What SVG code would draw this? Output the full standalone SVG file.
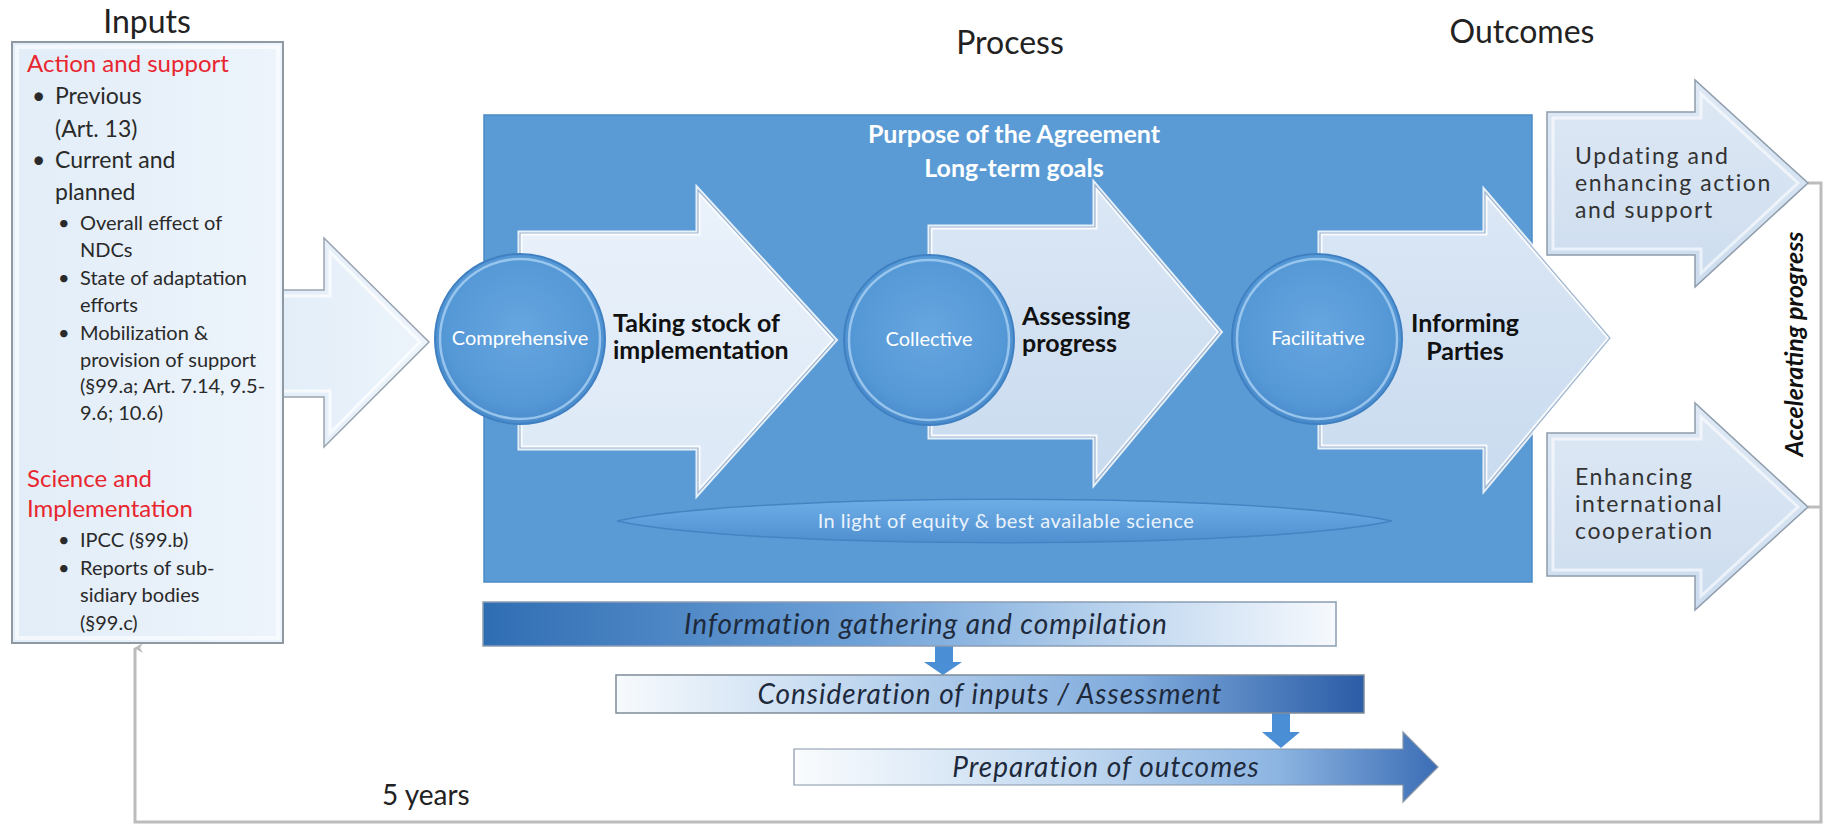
<svg xmlns="http://www.w3.org/2000/svg" width="1827" height="825" viewBox="0 0 1827 825">
<style>
text{font-family:"Lato","Open Sans","Liberation Sans",sans-serif}
.title{font-size:32px;fill:#222}
.red{fill:#e8262f;font-size:24px}
.main{font-size:23px;fill:#2a2a2a}
.sub{font-size:20px;fill:#2a2a2a}
.circ{font-size:20px;fill:#ffffff}
.bold{font-size:25px;font-weight:bold;fill:#111}
.out{font-size:23px;fill:#333;letter-spacing:1.6px}
.bar{font-size:28px;font-style:italic;fill:#1e2a3c;letter-spacing:1px}
.parr{stroke:#ffffff;stroke-width:5;stroke-opacity:0.85;stroke-linejoin:miter}
.pout{fill:none;stroke:#9db4cf;stroke-width:1.2}
.ring{fill:none;stroke:#a9d1f3;stroke-width:2.5;stroke-opacity:0.8}
.loop{fill:none;stroke:#bcbcbc;stroke-width:3}
</style>
<defs>
<linearGradient id="gInput" x1="0" y1="0" x2="1" y2="0">
<stop offset="0" stop-color="#e2edf8"/><stop offset="1" stop-color="#edf4fb"/>
</linearGradient>
<linearGradient id="gArr1" x1="0" y1="0" x2="0" y2="1">
<stop offset="0" stop-color="#eaf2fb"/><stop offset="1" stop-color="#dce8f6"/>
</linearGradient>
<linearGradient id="gArr2" x1="0" y1="0" x2="0" y2="1">
<stop offset="0" stop-color="#dbe7f5"/><stop offset="1" stop-color="#c9dbef"/>
</linearGradient>
<linearGradient id="gOut" x1="0" y1="0" x2="0" y2="1">
<stop offset="0" stop-color="#dfe9f5"/><stop offset="1" stop-color="#ccdcee"/>
</linearGradient>
<radialGradient id="gCirc" cx="0.5" cy="0.45" r="0.55">
<stop offset="0" stop-color="#66a6e0"/><stop offset="0.8" stop-color="#5598d6"/><stop offset="1" stop-color="#4a8bcb"/>
</radialGradient>
<linearGradient id="gLens" x1="0" y1="0" x2="0" y2="1">
<stop offset="0" stop-color="#6eaee6"/><stop offset="1" stop-color="#4f8fd0"/>
</linearGradient>
<linearGradient id="gBar1" x1="0" y1="0" x2="1" y2="0">
<stop offset="0" stop-color="#2f6db3"/><stop offset="0.45" stop-color="#6fa2d8"/><stop offset="0.8" stop-color="#c9ddf2"/><stop offset="1" stop-color="#f6f9fd"/>
</linearGradient>
<linearGradient id="gBar2" x1="0" y1="0" x2="1" y2="0">
<stop offset="0" stop-color="#f7fafd"/><stop offset="0.3" stop-color="#c3d9f0"/><stop offset="0.7" stop-color="#7eaadc"/><stop offset="1" stop-color="#2b5ca6"/>
</linearGradient>
<linearGradient id="gBar3" x1="0" y1="0" x2="1" y2="0">
<stop offset="0" stop-color="#fafcfe"/><stop offset="0.4" stop-color="#c6dbf1"/><stop offset="0.75" stop-color="#8db5e2"/><stop offset="1" stop-color="#3b6db5"/>
</linearGradient>
<marker id="loopArrow" markerWidth="10" markerHeight="10" refX="5" refY="1" orient="auto-start-reverse" markerUnits="userSpaceOnUse" viewBox="0 0 10 10">
<path d="M0 9 L5 0 L10 9 L5 6 Z" fill="#bcbcbc"/>
</marker>
</defs>

<rect width="1827" height="825" fill="#ffffff"/>

<g id="titles">
<text class="title" x="147" y="33" text-anchor="middle">Inputs</text>
<text class="title" x="1010" y="54" text-anchor="middle">Process</text>
<text class="title" x="1522" y="43" text-anchor="middle">Outcomes</text>
</g>

<g id="connectors">
<path class="loop" d="M1808 183 L1821 183 L1821 822 L135 822 L135 648" marker-end="url(#loopArrow)"/>
<path class="loop" d="M1808 507 L1821 507"/>
<path d="M935 646 L953 646 L953 662 L962 662 L943 675 L924 662 L935 662 Z" fill="#4a8fd6"/>
<path d="M1272 713 L1290 713 L1290 732 L1300 732 L1281 748 L1262 732 L1272 732 Z" fill="#4a8fd6"/>
</g>

<g id="inputs">
<path d="M270 290 L324 290 L324 238 L429 342 L324 447 L324 397 L270 397 Z" fill="url(#gInput)" stroke="#9aa4ae" stroke-width="1.5"/>
<path d="M283 296 L330 296 L330 252 L420 342 L330 433 L330 391 L283 391" fill="none" stroke="#ffffff" stroke-width="3" stroke-opacity="0.7"/>
<rect x="12" y="42" width="271" height="601" fill="url(#gInput)" stroke="#8f99a3" stroke-width="2"/>
<rect x="17" y="47" width="261" height="591" fill="none" stroke="#ffffff" stroke-width="4" stroke-opacity="0.6"/>
<text class="red" x="27" y="72">Action and support</text>
<text class="main" x="32" y="104">•</text><text class="main" x="55" y="104">Previous</text>
<text class="main" x="55" y="137">(Art. 13)</text>
<text class="main" x="32" y="168">•</text><text class="main" x="55" y="168">Current and</text>
<text class="main" x="55" y="200">planned</text>
<text class="sub" x="58" y="230">•</text><text class="sub" x="80" y="230">Overall effect of</text>
<text class="sub" x="80" y="257">NDCs</text>
<text class="sub" x="58" y="285">•</text><text class="sub" x="80" y="285">State of adaptation</text>
<text class="sub" x="80" y="312">efforts</text>
<text class="sub" x="58" y="340">•</text><text class="sub" x="80" y="340">Mobilization &amp;</text>
<text class="sub" x="80" y="367">provision of support</text>
<text class="sub" x="80" y="393">(§99.a; Art. 7.14, 9.5-</text>
<text class="sub" x="80" y="420">9.6; 10.6)</text>
<text class="red" x="27" y="487">Science and</text>
<text class="red" x="27" y="517">Implementation</text>
<text class="sub" x="58" y="547">•</text><text class="sub" x="80" y="547">IPCC (§99.b)</text>
<text class="sub" x="58" y="575">•</text><text class="sub" x="80" y="575">Reports of sub-</text>
<text class="sub" x="80" y="602">sidiary bodies</text>
<text class="sub" x="80" y="630">(§99.c)</text>
</g>

<g id="process">
<rect x="484" y="115" width="1048" height="467" fill="#5b9bd5" stroke="#4b8bc8" stroke-width="1.5"/>
<text x="1014" y="143" text-anchor="middle" font-size="25" font-weight="bold" fill="#ffffff">Purpose of the Agreement<tspan x="1014" dy="34">Long-term goals</tspan></text>
<g id="lens">
<path d="M617 521 C750 492 1260 492 1392 521 C1260 550 750 550 617 521 Z" fill="url(#gLens)" stroke="#4683c3" stroke-width="1.5"/>
<text x="1006" y="528" text-anchor="middle" font-size="20" letter-spacing="0.5" fill="#eaf3fc">In light of equity &amp; best available science</text>
</g>
</g>

<g id="step1">
<path class="parr" d="M520 233 L698 233 L698 190 L835 340 L698 493 L698 448 L520 448 Z" fill="url(#gArr1)"/>
<path class="pout" d="M520 233 L698 233 L698 190 L835 340 L698 493 L698 448 L520 448 Z"/>
<circle cx="520" cy="339" r="85" fill="url(#gCirc)" stroke="#3f80c2" stroke-width="2"/>
<circle class="ring" cx="520" cy="339" r="80"/>
<text class="circ" x="520" y="345" text-anchor="middle">Comprehensive</text>
<text class="bold" x="613" y="332">Taking stock of<tspan x="613" dy="27">implementation</tspan></text>
</g>

<g id="step2">
<path class="parr" d="M930 227 L1095 227 L1095 185 L1220 332 L1095 482 L1095 437 L930 437 Z" fill="url(#gArr2)"/>
<path class="pout" d="M930 227 L1095 227 L1095 185 L1220 332 L1095 482 L1095 437 L930 437 Z"/>
<circle cx="929" cy="340" r="85" fill="url(#gCirc)" stroke="#3f80c2" stroke-width="2"/>
<circle class="ring" cx="929" cy="340" r="80"/>
<text class="circ" x="929" y="346" text-anchor="middle">Collective</text>
<text class="bold" x="1022" y="325">Assessing<tspan x="1022" dy="27">progress</tspan></text>
</g>

<g id="step3">
<path class="parr" d="M1320 233 L1485 233 L1485 192 L1610 338 L1485 488 L1485 447 L1320 447 Z" fill="url(#gArr2)"/>
<path class="pout" d="M1320 233 L1485 233 L1485 192 L1610 338 L1485 488 L1485 447 L1320 447 Z"/>
<circle cx="1317" cy="339" r="85" fill="url(#gCirc)" stroke="#3f80c2" stroke-width="2"/>
<circle class="ring" cx="1317" cy="339" r="80"/>
<text class="circ" x="1318" y="345" text-anchor="middle">Facilitative</text>
<text class="bold" x="1465" y="332" text-anchor="middle" font-size="23">Informing<tspan x="1465" dy="28">Parties</tspan></text>
</g>

<g id="outcome1">
<path d="M1547 112 L1695 112 L1695 80 L1808 183 L1695 287 L1695 255 L1547 255 Z" fill="url(#gOut)" stroke="#8e9cab" stroke-width="1.5"/>
<path d="M1553 118 L1701 118 L1701 94 L1798 183 L1701 273 L1701 249 L1553 249 Z" fill="none" stroke="#ffffff" stroke-width="3" stroke-opacity="0.6"/>
<text class="out" x="1575" y="164">Updating and<tspan x="1575" dy="27">enhancing action</tspan><tspan x="1575" dy="27">and support</tspan></text>
</g>

<g id="outcome2">
<path d="M1547 433 L1695 433 L1695 403 L1808 507 L1695 610 L1695 576 L1547 576 Z" fill="url(#gOut)" stroke="#8e9cab" stroke-width="1.5"/>
<path d="M1553 439 L1701 439 L1701 417 L1798 507 L1701 596 L1701 570 L1553 570 Z" fill="none" stroke="#ffffff" stroke-width="3" stroke-opacity="0.6"/>
<text class="out" x="1575" y="485">Enhancing<tspan x="1575" dy="27">international</tspan><tspan x="1575" dy="27">cooperation</tspan></text>
</g>

<g id="accelerating">
<text x="0" y="0" transform="translate(1803 344) rotate(-90)" text-anchor="middle" font-size="25" font-weight="bold" font-style="italic" fill="#111">Accelerating progress</text>
</g>

<g id="bar1">
<rect x="483" y="602" width="853" height="44" fill="url(#gBar1)" stroke="#8a9db3" stroke-width="1.5"/>
<text class="bar" x="926" y="634" text-anchor="middle">Information gathering and compilation</text>
</g>
<g id="bar2">
<rect x="616" y="675" width="748" height="38" fill="url(#gBar2)" stroke="#7f8c99" stroke-width="1.5"/>
<text class="bar" x="990" y="704" text-anchor="middle">Consideration of inputs / Assessment</text>
</g>
<g id="bar3">
<path d="M794 749 L1403 749 L1403 732 L1438 767 L1403 802 L1403 785 L794 785 Z" fill="url(#gBar3)" stroke="#8596a8" stroke-width="1.2"/>
<text class="bar" x="1106" y="777" text-anchor="middle">Preparation of outcomes</text>
</g>

<g id="cycle">
<text x="382" y="805" font-size="28" fill="#222">5 years</text>
</g>
</svg>
